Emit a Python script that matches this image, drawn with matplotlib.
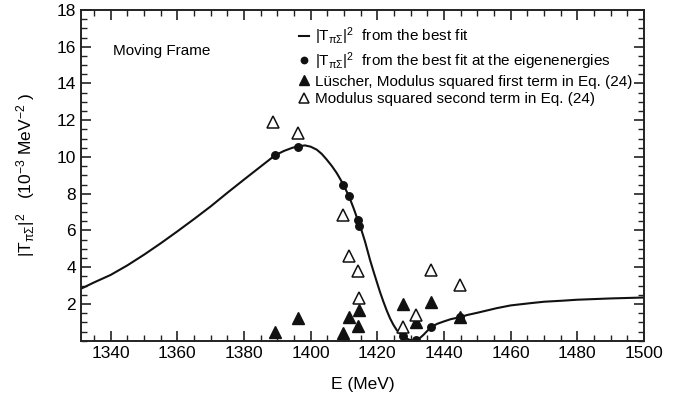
import numpy as np
import matplotlib.pyplot as plt
from matplotlib.ticker import MultipleLocator

plt.rcParams['font.family'] = ['Liberation Sans', 'DejaVu Sans']
plt.rcParams['mathtext.fontset'] = 'custom'
plt.rcParams['mathtext.rm'] = 'Liberation Sans'
plt.rcParams['mathtext.it'] = 'Liberation Sans'
plt.rcParams['mathtext.bf'] = 'Liberation Sans'

# |T_piSigma|^2 best fit curve
curve_E = [1331, 1335, 1340, 1345, 1350, 1355, 1360, 1365, 1370, 1375, 1380,
           1385, 1389.3, 1392, 1394.5, 1396.3, 1398.3, 1400, 1401.8, 1403.3,
           1404.8, 1406.3, 1407.8, 1408.8, 1409.8, 1411.5, 1413, 1414.1,
           1415.3, 1416.3, 1417.8, 1418.8, 1419.8, 1420.8, 1421.8, 1422.8,
           1423.8, 1424.8, 1425.8, 1426.7, 1427.6, 1428.7, 1429.8, 1430.8,
           1431.8, 1432.8, 1433.8, 1434.8, 1436.3, 1438, 1440, 1442, 1444.8,
           1447, 1450, 1455.8, 1460, 1465.8, 1470, 1475.8, 1480, 1485.8,
           1490, 1500]
curve_T = [2.82, 3.17, 3.58, 4.10, 4.68, 5.30, 5.95, 6.62, 7.31, 8.05, 8.77,
           9.48, 10.09, 10.33, 10.50, 10.58, 10.63, 10.56, 10.40, 10.17,
           9.86, 9.52, 9.13, 8.82, 8.49, 7.86, 7.15, 6.58,
           5.98, 5.40, 4.40, 3.80, 3.22, 2.65, 2.13, 1.65,
           1.22, 0.87, 0.58, 0.40, 0.27, 0.12, 0.04, 0.00,
           0.04, 0.15, 0.31, 0.50, 0.76, 0.92, 1.05, 1.17, 1.28,
           1.40, 1.52, 1.77, 1.92, 2.04, 2.12, 2.18, 2.23, 2.27,
           2.30, 2.35]

# eigenenergies
eig_E = [1389.3, 1396.3, 1409.8, 1411.4, 1414.1, 1414.6, 1427.6, 1431.6, 1436.2, 1444.8]
fit_at_eig = [10.09, 10.57, 8.49, 7.86, 6.58, 6.26, 0.27, 0.02, 0.76, 1.28]
luscher_first = [0.49, 1.22, 0.44, 1.31, 0.80, 1.67, 2.00, 1.04, 2.13, 1.28]
second_term_E = [1388.8, 1396.1, 1409.8, 1411.4, 1414.1, 1414.6, 1427.6, 1431.6, 1436.2, 1444.8]
second_term = [11.88, 11.30, 6.86, 4.62, 3.77, 2.35, 0.76, 1.40, 3.86, 3.04]

fig = plt.figure(figsize=(6.89, 4.05), dpi=100)
ax = fig.add_axes([0.1171, 0.1588, 0.8176, 0.8165])

ax.plot(curve_E, curve_T, color='#111111', lw=1.5,
        label=r'|T$_{πΣ}$|$^2$  from the best fit')
ax.plot(eig_E, fit_at_eig, 'o', color='#111111', ms=5.4, ls='none',
        label=r'|T$_{πΣ}$|$^2$  from the best fit at the eigenenergies')
ax.plot(eig_E, luscher_first, '^', color='#111111', ms=8, ls='none',
        label='Lüscher, Modulus squared first term in Eq. (24)')
ax.plot(second_term_E, second_term, '^', mfc='white', mec='#111111', mew=1.1,
        ms=8, ls='none', label='Modulus squared second term in Eq. (24)')

ax.set_xlim(1331, 1500)
ax.set_ylim(0, 18)
ax.xaxis.set_major_locator(MultipleLocator(20))
ax.xaxis.set_minor_locator(MultipleLocator(5))
ax.yaxis.set_major_locator(MultipleLocator(2))
ax.yaxis.set_minor_locator(MultipleLocator(0.5))
ax.set_yticks([2, 4, 6, 8, 10, 12, 14, 16, 18])
ax.tick_params(which='both', direction='in', top=True, right=True,
               labelsize=12.5, color='#222222')
ax.tick_params(which='major', length=7, width=1.2)
ax.tick_params(which='minor', length=4, width=1.0)
for s in ax.spines.values():
    s.set_linewidth(1.4)
    s.set_color('#222222')

ax.set_xlabel('E (MeV)', fontsize=12.5, labelpad=12)
ax.set_ylabel(r'|T$_{πΣ}$|$^2$   (10$^{-3}$ MeV$^{-2}$ )', fontsize=12.5, labelpad=14)

ax.text(0.057, 0.875, 'Moving Frame', transform=ax.transAxes, fontsize=11,
        va='center', ha='left')

ax.legend(loc='upper left', bbox_to_anchor=(0.365, 0.99), frameon=False,
          fontsize=11, handlelength=0.7, handletextpad=0.4, labelspacing=0.2,
          borderpad=0.3, markerscale=0.85)

fig.savefig('out.png', dpi=100)
